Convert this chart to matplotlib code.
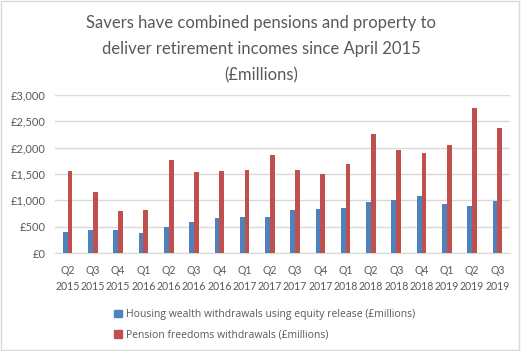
"""
Equity release vs pension freedoms withdrawals, quarterly.
"""

import numpy as np
import matplotlib.pyplot as plt
from matplotlib.patches import Rectangle, Patch

quarters = ["Q2\n2015", "Q3\n2015", "Q4\n2015", "Q1\n2016", "Q2\n2016", "Q3\n2016",
            "Q4\n2016", "Q1\n2017", "Q2\n2017", "Q3\n2017", "Q4\n2017", "Q1\n2018",
            "Q2\n2018", "Q3\n2018", "Q4\n2018", "Q1\n2019", "Q2\n2019", "Q3\n2019"]
housing = [390, 440, 440, 385, 500, 580, 670, 690, 690, 820, 840, 860,
           975, 1010, 1085, 935, 895, 990]
pension = [1560, 1160, 800, 820, 1770, 1540, 1560, 1580, 1865, 1580, 1505, 1695,
           2260, 1960, 1900, 2055, 2755, 2375]

blue = "#4F81BD"
red = "#C0504D"
grey = "#595959"

plt.rcParams["font.family"] = ["Lato", "DejaVu Sans"]

fig = plt.figure(figsize=(5.25, 3.51), dpi=100)
ax = fig.add_axes([55/525, 1 - 253/351, 455/525, 158/351])

x = np.arange(len(quarters))
w = 0.19
ax.bar(x - w/2, housing, w, color=blue, zorder=3)
ax.bar(x + w/2, pension, w, color=red, zorder=3)

ax.set_xlim(-0.5, len(quarters) - 0.5)
ax.set_ylim(0, 3000)
ax.set_yticks(range(0, 3001, 500))
ax.set_yticklabels([f"£{v:,}" for v in range(0, 3001, 500)])
ax.set_xticks(x)
ax.set_xticklabels(quarters, linespacing=1.45)
ax.tick_params(length=0, colors=grey, labelsize=8)
ax.tick_params(axis="x", labelsize=7.6, pad=9)
ax.tick_params(axis="y", pad=7)
ax.grid(axis="y", color="#D9D9D9", linewidth=1, zorder=0)
for s in ["top", "right", "left"]:
    ax.spines[s].set_visible(False)
ax.spines["bottom"].set_color("#D9D9D9")

fig.text(0.497, 0.958, "Savers have combined pensions and property to\n"
         "deliver retirement incomes since April 2015\n(£millions)",
         ha="center", va="top", fontsize=12, color=grey, linespacing=1.8)

handles = [Patch(color=blue, label="Housing wealth withdrawals using equity release (£millions)"),
           Patch(color=red, label="Pension freedoms withdrawals (£millions)")]
fig.legend(handles=handles, loc="upper left", bbox_to_anchor=(105/525, 1 - 300/351),
           frameon=False, fontsize=7.5, labelcolor=grey, handlelength=0.7,
           handleheight=0.7, handletextpad=0.4, labelspacing=0.9,
           prop={"family": ["Open Sans", "DejaVu Sans"], "size": 7.5})

fig.patches.append(Rectangle((0.001, 0.003), 518/525, 0.994, transform=fig.transFigure,
                             fill=False, edgecolor="#D9D9D9", linewidth=1))

plt.savefig("out.png", dpi=100)
